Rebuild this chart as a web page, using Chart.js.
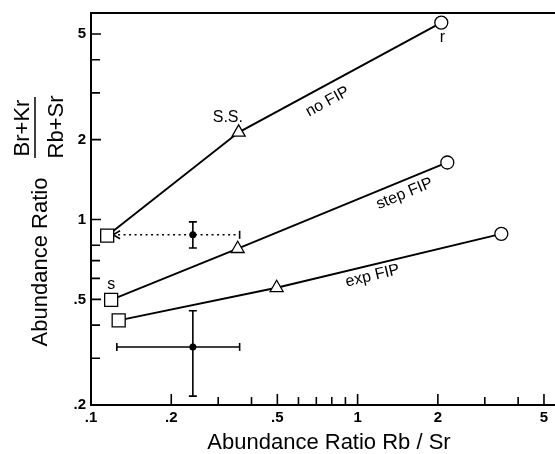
<!DOCTYPE html>
<html>
<head>
<meta charset="utf-8">
<script src="https://cdn.jsdelivr.net/npm/chart.js@4/dist/chart.umd.min.js"></script>
<style>
  html, body { margin: 0; padding: 0; background: #fff; }
</style>
</head>
<body>
<canvas id="abundance-chart" width="555" height="454"></canvas>
<script>
// Axis ranges and tick labels (log-log)
const xMin = 0.1, xMax = 5.5;
const yMin = 0.2, yMax = 6;
const xTickVals = [0.1, 0.2, 0.5, 1, 2, 5];
const xTickText = ['.1', '.2', '.5', '1', '2', '5'];
const yTickVals = [0.2, 0.5, 1, 2, 5];
const yTickText = ['.2', '.5', '1', '2', '5'];
const xMinorVals = [0.3, 0.4, 0.6, 0.7, 0.8, 0.9, 3, 4];
const yMinorVals = [0.3, 0.4, 0.6, 0.7, 0.8, 3, 4];

// Model curves: start (square), middle (triangle), end (circle)
const noFipX = [0.115, 0.358, 2.06];
const noFipY = [0.869, 2.13, 5.52];
const stepFipX = [0.119, 0.355, 2.17];
const stepFipY = [0.498, 0.776, 1.64];
const expFipX = [0.127, 0.497, 3.46];
const expFipY = [0.417, 0.553, 0.883];

// Observations with error bars
const obsX = [0.241, 0.241];
const obsY = [0.876, 0.331];
const obsXLo = [0.121, 0.125];
const obsXHi = [0.361, 0.361];
const obsYLo = [0.781, 0.216];
const obsYHi = [0.98, 0.453];

// Text notes placed in data units
const noteText = ['no FIP', 'step FIP', 'exp FIP', 'S.S.', 'r', 's'];
const noteX = [0.772, 1.50, 1.138, 0.326, 2.08, 0.119];
const noteY = [2.78, 1.25, 0.613, 2.42, 4.85, 0.567];

const FONT = '"Liberation Sans", Arial, Helvetica, sans-serif';

function toPoints(xs, ys) {
  return xs.map((x, i) => ({ x: x, y: ys[i] }));
}

const modelStyle = {
  showLine: true,
  borderColor: '#000',
  borderWidth: 1.9,
  pointStyle: ['rect', 'triangle', 'circle'],
  pointRadius: [9.2, 7.5, 6.5],
  pointBackgroundColor: '#fff',
  pointBorderColor: '#000',
  pointBorderWidth: 1.3
};

// Draws frame, inward ticks, titles, notes and error bars
const decor = {
  id: 'decor',
  beforeDatasetsDraw(chart) {
    const ctx = chart.ctx;
    const xs = chart.scales.x, ys = chart.scales.y;
    ctx.save();
    ctx.strokeStyle = '#000';
    ctx.lineWidth = 1.6;
    obsX.forEach((v, i) => {
      const px = xs.getPixelForValue(v);
      const py = ys.getPixelForValue(obsY[i]);
      const yl = ys.getPixelForValue(obsYLo[i]);
      const yh = ys.getPixelForValue(obsYHi[i]);
      const xl = xs.getPixelForValue(obsXLo[i]);
      const xh = xs.getPixelForValue(obsXHi[i]);
      // vertical bar with caps
      ctx.beginPath();
      ctx.moveTo(px, yl); ctx.lineTo(px, yh);
      ctx.moveTo(px - 4, yl); ctx.lineTo(px + 4, yl);
      ctx.moveTo(px - 4, yh); ctx.lineTo(px + 4, yh);
      ctx.stroke();
      // horizontal bar
      if (i === 0) {
        ctx.save();
        ctx.setLineDash([2, 3.5]);
        ctx.beginPath();
        ctx.moveTo(xl + 5, py); ctx.lineTo(xh, py);
        ctx.stroke();
        ctx.restore();
        // arrow head pointing to the square
        ctx.beginPath();
        ctx.moveTo(xl + 7, py - 4); ctx.lineTo(xl, py); ctx.lineTo(xl + 7, py + 4);
        ctx.stroke();
      } else {
        ctx.beginPath();
        ctx.moveTo(xl, py); ctx.lineTo(xh, py);
        ctx.moveTo(xl, py - 4); ctx.lineTo(xl, py + 4);
        ctx.stroke();
      }
      ctx.beginPath();
      ctx.moveTo(xh, py - 4); ctx.lineTo(xh, py + 4);
      ctx.stroke();
    });
    ctx.restore();
  },
  afterDraw(chart) {
    const ctx = chart.ctx;
    const a = chart.chartArea;
    const xs = chart.scales.x, ys = chart.scales.y;
    ctx.save();
    ctx.strokeStyle = '#000';
    ctx.fillStyle = '#000';

    // frame: top, left, bottom
    ctx.lineWidth = 2;
    ctx.beginPath();
    ctx.moveTo(a.right, a.top); ctx.lineTo(a.left, a.top);
    ctx.lineTo(a.left, a.bottom); ctx.lineTo(a.right, a.bottom);
    ctx.stroke();

    // inward tick marks
    ctx.lineWidth = 1.6;
    ctx.beginPath();
    xTickVals.slice(1).forEach(v => {
      const px = xs.getPixelForValue(v);
      ctx.moveTo(px, a.bottom); ctx.lineTo(px, a.bottom - 11);
    });
    xMinorVals.forEach(v => {
      const px = xs.getPixelForValue(v);
      ctx.moveTo(px, a.bottom); ctx.lineTo(px, a.bottom - 8);
    });
    yTickVals.slice(1).forEach(v => {
      const py = ys.getPixelForValue(v);
      ctx.moveTo(a.left, py); ctx.lineTo(a.left + 10, py);
    });
    yMinorVals.forEach(v => {
      const py = ys.getPixelForValue(v);
      ctx.moveTo(a.left, py); ctx.lineTo(a.left + 9, py);
    });
    ctx.stroke();

    // axis titles
    ctx.font = '22px ' + FONT;
    ctx.textAlign = 'center';
    ctx.textBaseline = 'alphabetic';
    ctx.fillText('Abundance Ratio Rb / Sr', 329, 449);

    ctx.save();
    ctx.translate(47, 262);
    ctx.rotate(-Math.PI / 2);
    ctx.fillText('Abundance Ratio', 0, 0);
    ctx.restore();

    ctx.save();
    ctx.translate(29, 128);
    ctx.rotate(-Math.PI / 2);
    ctx.fillText('Br+Kr', 0, 0);
    ctx.restore();
    ctx.save();
    ctx.translate(63, 127);
    ctx.rotate(-Math.PI / 2);
    ctx.fillText('Rb+Sr', 0, 0);
    ctx.restore();
    ctx.lineWidth = 1.5;
    ctx.beginPath();
    ctx.moveTo(35, 97); ctx.lineTo(35, 158);
    ctx.stroke();

    // notes on the curves
    const curves = [[noFipX, noFipY], [stepFipX, stepFipY], [expFipX, expFipY]];
    ctx.font = '16px ' + FONT;
    ctx.textBaseline = 'middle';
    noteText.forEach((t, i) => {
      const px = xs.getPixelForValue(noteX[i]);
      const py = ys.getPixelForValue(noteY[i]);
      let ang = 0;
      if (i < curves.length) {
        const c = curves[i];
        const x1 = xs.getPixelForValue(c[0][1]), y1 = ys.getPixelForValue(c[1][1]);
        const x2 = xs.getPixelForValue(c[0][2]), y2 = ys.getPixelForValue(c[1][2]);
        ang = Math.atan2(y2 - y1, x2 - x1);
      }
      ctx.save();
      ctx.translate(px, py);
      ctx.rotate(ang);
      ctx.fillText(t, 0, 0);
      ctx.restore();
    });
    ctx.restore();
  }
};

new Chart('abundance-chart', {
  type: 'scatter',
  data: {
    datasets: [
      Object.assign({ label: 'no FIP', data: toPoints(noFipX, noFipY) }, modelStyle),
      Object.assign({ label: 'step FIP', data: toPoints(stepFipX, stepFipY) }, modelStyle),
      Object.assign({ label: 'exp FIP', data: toPoints(expFipX, expFipY) }, modelStyle),
      {
        label: 'observed',
        data: toPoints(obsX, obsY),
        showLine: false,
        pointStyle: 'circle',
        pointRadius: 3.5,
        pointBackgroundColor: '#000',
        pointBorderColor: '#000',
        pointBorderWidth: 0
      }
    ]
  },
  options: {
    responsive: false,
    animation: false,
    events: [],
    layout: { autoPadding: false, padding: { top: 13, right: 0, left: 0, bottom: 0 } },
    plugins: {
      legend: { display: false },
      tooltip: { enabled: false }
    },
    scales: {
      x: {
        type: 'logarithmic',
        min: xMin,
        max: xMax,
        grid: { display: false, drawTicks: false },
        border: { display: false },
        afterBuildTicks: scale => { scale.ticks = xTickVals.map(v => ({ value: v })); },
        afterFit: scale => {
          scale.height = 49;
          scale.paddingLeft = 0;
          scale.paddingRight = 0;
        },
        ticks: {
          autoSkip: false,
          maxRotation: 0,
          padding: 4,
          color: '#000',
          font: { family: FONT, size: 15, weight: 'bold' },
          callback: v => xTickText[xTickVals.indexOf(v)]
        }
      },
      y: {
        type: 'logarithmic',
        min: yMin,
        max: yMax,
        grid: { display: false, drawTicks: false },
        border: { display: false },
        afterBuildTicks: scale => { scale.ticks = yTickVals.map(v => ({ value: v })); },
        afterFit: scale => {
          scale.width = 91;
          scale.paddingTop = 0;
          scale.paddingBottom = 0;
        },
        ticks: {
          autoSkip: false,
          padding: 5,
          color: '#000',
          font: { family: FONT, size: 15, weight: 'bold' },
          callback: v => yTickText[yTickVals.indexOf(v)]
        }
      }
    }
  },
  plugins: [decor]
});
</script>
</body>
</html>
